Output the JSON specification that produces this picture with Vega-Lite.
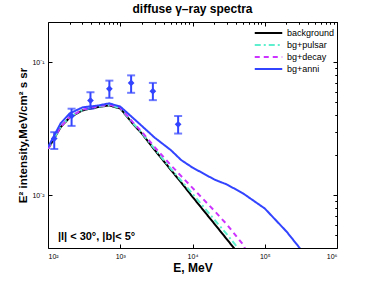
{
  "$schema": "https://vega.github.io/schema/vega-lite/v6.json",
  "autosize": {"type": "none"},
  "padding": {"left": 48, "top": 22, "right": 37, "bottom": 33},
  "width": 289,
  "height": 226,
  "background": "white",
  "title": {"text": "diffuse γ–ray spectra", "font": "Liberation Sans", "fontSize": 12, "fontWeight": "bold", "color": "black", "anchor": "middle", "offset": 6},
  "config": {
    "view": {"stroke": "black", "strokeWidth": 1},
    "axis": {"domainColor": "black", "tickColor": "black", "labelColor": "black", "titleColor": "black", "labelFont": "Liberation Sans", "titleFont": "Liberation Sans", "grid": false},
    "legend": {"title": null, "orient": "none", "legendX": 214, "legendY": 4.5, "symbolType": "M-2.5,0H2.5", "symbolSize": 121, "symbolStrokeWidth": 2, "labelFont": "Liberation Sans", "labelFontSize": 9, "labelColor": "black", "labelOffset": 12, "rowPadding": 0, "padding": 0}
  },
  "datasets": {
    "lines": [
      {"E": 100, "I": 0.0222, "series": "background"},
      {"E": 150, "I": 0.0324, "series": "background"},
      {"E": 200, "I": 0.0384, "series": "background"},
      {"E": 300, "I": 0.0433, "series": "background"},
      {"E": 500, "I": 0.0460, "series": "background"},
      {"E": 700, "I": 0.0472, "series": "background"},
      {"E": 1000, "I": 0.0448, "series": "background"},
      {"E": 1500, "I": 0.0343, "series": "background"},
      {"E": 2000, "I": 0.0289, "series": "background"},
      {"E": 3000, "I": 0.0218, "series": "background"},
      {"E": 5000, "I": 0.0155, "series": "background"},
      {"E": 7000, "I": 0.0124, "series": "background"},
      {"E": 10000, "I": 0.0097, "series": "background"},
      {"E": 20000, "I": 0.0061, "series": "background"},
      {"E": 30000, "I": 0.00464, "series": "background"},
      {"E": 50000, "I": 0.00329, "series": "background"},
      {"E": 100, "I": 0.0223, "series": "bg+pulsar"},
      {"E": 150, "I": 0.0326, "series": "bg+pulsar"},
      {"E": 200, "I": 0.0387, "series": "bg+pulsar"},
      {"E": 300, "I": 0.0436, "series": "bg+pulsar"},
      {"E": 500, "I": 0.0463, "series": "bg+pulsar"},
      {"E": 700, "I": 0.0475, "series": "bg+pulsar"},
      {"E": 1000, "I": 0.0451, "series": "bg+pulsar"},
      {"E": 1500, "I": 0.0346, "series": "bg+pulsar"},
      {"E": 2000, "I": 0.0292, "series": "bg+pulsar"},
      {"E": 3000, "I": 0.0222, "series": "bg+pulsar"},
      {"E": 5000, "I": 0.0158, "series": "bg+pulsar"},
      {"E": 10000, "I": 0.01023, "series": "bg+pulsar"},
      {"E": 20000, "I": 0.00655, "series": "bg+pulsar"},
      {"E": 30000, "I": 0.00506, "series": "bg+pulsar"},
      {"E": 50000, "I": 0.00359, "series": "bg+pulsar"},
      {"E": 100, "I": 0.0223, "series": "bg+decay"},
      {"E": 150, "I": 0.0326, "series": "bg+decay"},
      {"E": 200, "I": 0.0388, "series": "bg+decay"},
      {"E": 300, "I": 0.0438, "series": "bg+decay"},
      {"E": 500, "I": 0.0466, "series": "bg+decay"},
      {"E": 700, "I": 0.0478, "series": "bg+decay"},
      {"E": 1000, "I": 0.0455, "series": "bg+decay"},
      {"E": 1500, "I": 0.0352, "series": "bg+decay"},
      {"E": 2000, "I": 0.0298, "series": "bg+decay"},
      {"E": 3000, "I": 0.0229, "series": "bg+decay"},
      {"E": 5000, "I": 0.0168, "series": "bg+decay"},
      {"E": 10000, "I": 0.01133, "series": "bg+decay"},
      {"E": 20000, "I": 0.00763, "series": "bg+decay"},
      {"E": 30000, "I": 0.0060, "series": "bg+decay"},
      {"E": 50000, "I": 0.00425, "series": "bg+decay"},
      {"E": 100000, "I": 0.0020, "series": "bg+decay"},
      {"E": 100, "I": 0.0229, "series": "bg+anni"},
      {"E": 150, "I": 0.0347, "series": "bg+anni"},
      {"E": 200, "I": 0.0411, "series": "bg+anni"},
      {"E": 300, "I": 0.0456, "series": "bg+anni"},
      {"E": 500, "I": 0.0472, "series": "bg+anni"},
      {"E": 700, "I": 0.0489, "series": "bg+anni"},
      {"E": 1000, "I": 0.0463, "series": "bg+anni"},
      {"E": 1500, "I": 0.0380, "series": "bg+anni"},
      {"E": 2000, "I": 0.0330, "series": "bg+anni"},
      {"E": 3000, "I": 0.0270, "series": "bg+anni"},
      {"E": 5000, "I": 0.0218, "series": "bg+anni"},
      {"E": 7000, "I": 0.0183, "series": "bg+anni"},
      {"E": 10000, "I": 0.0161, "series": "bg+anni"},
      {"E": 20000, "I": 0.0131, "series": "bg+anni"},
      {"E": 30000, "I": 0.0120, "series": "bg+anni"},
      {"E": 50000, "I": 0.0103, "series": "bg+anni"},
      {"E": 100000, "I": 0.00793, "series": "bg+anni"},
      {"E": 200000, "I": 0.00532, "series": "bg+anni"},
      {"E": 300000, "I": 0.00404, "series": "bg+anni"},
      {"E": 400000, "I": 0.00323, "series": "bg+anni"}
    ],
    "obs": [
      {"E": 122, "I": 0.0266, "lo": 0.0222, "hi": 0.0297},
      {"E": 212, "I": 0.0393, "lo": 0.0331, "hi": 0.0446},
      {"E": 387, "I": 0.0514, "lo": 0.0446, "hi": 0.0593},
      {"E": 707, "I": 0.0629, "lo": 0.0538, "hi": 0.0725},
      {"E": 1414, "I": 0.0697, "lo": 0.0587, "hi": 0.0794},
      {"E": 2828, "I": 0.0604, "lo": 0.0517, "hi": 0.0697},
      {"E": 6325, "I": 0.0340, "lo": 0.0290, "hi": 0.0393}
    ],
    "note": [
      {"E": 137, "I": 0.0048, "label": "|l| < 30°, |b|< 5°"}
    ]
  },
  "resolve": {"axis": {"x": "independent", "y": "independent"}},
  "layer": [
    {
      "data": {"name": "lines"},
      "mark": {"type": "line", "strokeWidth": 2, "clip": true},
      "encoding": {
        "x": {"field": "E", "type": "quantitative",
              "scale": {"type": "log", "domain": [100, 1000000]},
              "axis": {"values": [100, 1000, 10000, 100000, 1000000], "labelExpr": "datum.value == 100 ? '10²' : datum.value == 1000 ? '10³' : datum.value == 10000 ? '10⁴' : datum.value == 100000 ? '10⁵' : '10⁶'",
                       "tickSize": -4, "labelPadding": 8, "labelFontSize": 7, "domain": false,
                       "title": "E, MeV", "titleFontSize": 12, "titleFontWeight": "bold", "titlePadding": 3}},
        "y": {"field": "I", "type": "quantitative",
              "scale": {"type": "log", "domain": [0.004, 0.2]},
              "axis": {"values": [0.01, 0.1], "labelExpr": "datum.value == 0.1 ? '10⁻¹' : '10⁻²'",
                       "tickSize": -4, "labelPadding": 8, "labelFontSize": 7, "domain": false,
                       "title": "E² intensity,MeV/cm² s sr", "titleFontSize": 11.5, "titleFontWeight": "bold", "titlePadding": 3}},
        "color": {"field": "series", "type": "nominal",
                  "scale": {"domain": ["background", "bg+pulsar", "bg+decay", "bg+anni"], "range": ["#000000", "#5EF0CE", "#CC33FF", "#3344FF"]},
                  "legend": {}},
        "strokeDash": {"field": "series", "type": "nominal",
                       "scale": {"domain": ["background", "bg+pulsar", "bg+decay", "bg+anni"], "range": [[1, 0], [6, 3, 2, 3], [5, 4], [1, 0]]},
                       "legend": {}},
        "order": {"field": "E", "type": "quantitative"}
      }
    },
    {
      "data": {"name": "obs"},
      "mark": {"type": "errorbar", "ticks": {"size": 8}, "thickness": 2, "color": "#3344FF"},
      "encoding": {
        "x": {"field": "E", "type": "quantitative", "scale": {"type": "log", "domain": [100, 1000000]},
              "axis": {"values": [200, 300, 400, 500, 600, 700, 800, 900, 2000, 3000, 4000, 5000, 6000, 7000, 8000, 9000, 20000, 30000, 40000, 50000, 60000, 70000, 80000, 90000, 200000, 300000, 400000, 500000, 600000, 700000, 800000, 900000], "labels": false, "tickSize": -2, "domain": false, "title": null}},
        "y": {"field": "lo", "type": "quantitative", "scale": {"type": "log", "domain": [0.004, 0.2]},
              "axis": {"values": [0.005, 0.006, 0.007, 0.008, 0.009, 0.02, 0.03, 0.04, 0.05, 0.06, 0.07, 0.08, 0.09, 0.2], "labels": false, "tickSize": -2, "domain": false, "title": null}},
        "y2": {"field": "hi"}
      }
    },
    {
      "data": {"name": "obs"},
      "mark": {"type": "point", "shape": "diamond", "filled": true, "size": 45, "color": "#3344FF", "opacity": 1},
      "encoding": {
        "x": {"field": "E", "type": "quantitative", "scale": {"type": "log", "domain": [100, 1000000]},
              "axis": {"orient": "top", "values": [100, 1000, 10000, 100000, 1000000], "labels": false, "tickSize": -4, "domain": false, "title": null}},
        "y": {"field": "I", "type": "quantitative", "scale": {"type": "log", "domain": [0.004, 0.2]},
              "axis": {"orient": "right", "values": [0.01, 0.1], "labels": false, "tickSize": -4, "domain": false, "title": null}}
      }
    },
    {
      "data": {"name": "note"},
      "mark": {"type": "text", "align": "left", "baseline": "middle", "font": "Liberation Sans", "fontSize": 11, "fontWeight": "bold", "color": "black"},
      "encoding": {
        "x": {"field": "E", "type": "quantitative", "scale": {"type": "log", "domain": [100, 1000000]},
              "axis": {"orient": "top", "values": [200, 300, 400, 500, 600, 700, 800, 900, 2000, 3000, 4000, 5000, 6000, 7000, 8000, 9000, 20000, 30000, 40000, 50000, 60000, 70000, 80000, 90000, 200000, 300000, 400000, 500000, 600000, 700000, 800000, 900000], "labels": false, "tickSize": -2, "domain": false, "title": null}},
        "y": {"field": "I", "type": "quantitative", "scale": {"type": "log", "domain": [0.004, 0.2]},
              "axis": {"orient": "right", "values": [0.005, 0.006, 0.007, 0.008, 0.009, 0.02, 0.03, 0.04, 0.05, 0.06, 0.07, 0.08, 0.09, 0.2], "labels": false, "tickSize": -2, "domain": false, "title": null}},
        "text": {"field": "label"}
      }
    }
  ]
}
